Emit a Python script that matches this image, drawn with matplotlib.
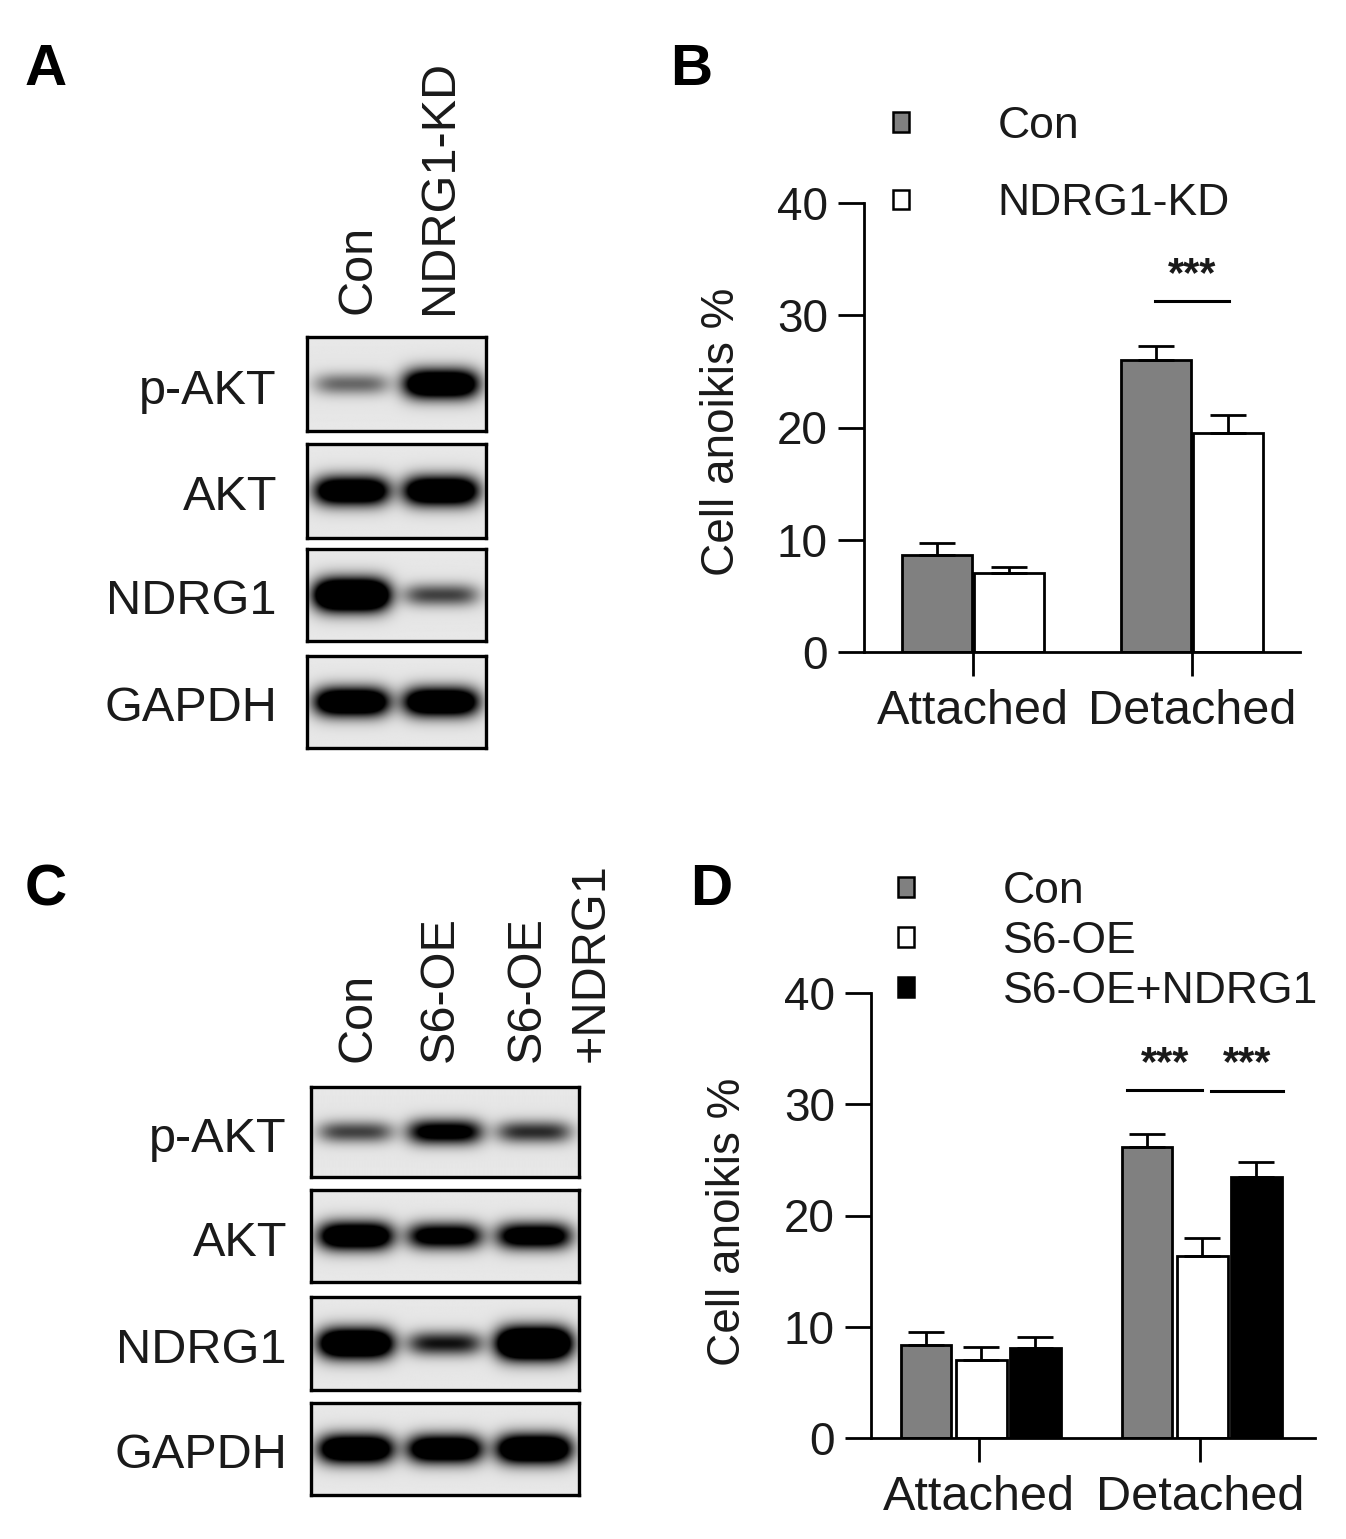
import numpy as np
import matplotlib
matplotlib.use("Agg")
import matplotlib.pyplot as plt
from matplotlib.patches import Patch

plt.rcParams['font.family'] = ['Liberation Sans', 'DejaVu Sans']

W, H = 1346, 1539
INK = '#1a1a1a'

# ---- western blot data (relative band strength) ----
proteins = ['p-AKT', 'AKT', 'NDRG1', 'GAPDH']
lanes_a = ['Con', 'NDRG1-KD']
levels_a = [[0.32, 1.05],
            [1.0, 1.05],
            [1.35, 0.42],
            [1.05, 1.05]]
lanes_c = ['Con', 'S6-OE', 'S6-OE\n+NDRG1']
levels_c = [[0.42, 0.75, 0.48],
            [1.0, 0.8, 0.85],
            [1.15, 0.55, 1.35],
            [1.05, 1.0, 1.1]]

# ---- anoikis data ----
groups = ['Attached', 'Detached']
b_names = ['Con', 'NDRG1-KD']
b_mean = [[8.6, 26.0], [7.0, 19.5]]
b_err = [[1.1, 1.3], [0.6, 1.6]]
d_names = ['Con', 'S6-OE', 'S6-OE+NDRG1']
d_mean = [[8.4, 26.2], [7.0, 16.4], [8.1, 23.5]]
d_err = [[1.1, 1.1], [1.2, 1.6], [1.0, 1.3]]
colors_b = ['#808080', 'white']
colors_d = ['#808080', 'white', 'black']


def rect(x0, y0, x1, y1):
    return [x0 / W, 1 - y1 / H, (x1 - x0) / W, (y1 - y0) / H]


def ftext(x, y, s, **kw):
    kw.setdefault('color', INK)
    return fig.text(x / W, 1 - y / H, s, **kw)


def band_image(levels, nx=360, ny=90):
    n = len(levels)
    xs = np.linspace(0, n, nx)
    ys = np.linspace(0, 1, ny)
    X, Y = np.meshgrid(xs, ys)
    dark = np.zeros_like(X)
    for i, lv in enumerate(levels):
        hw = 0.42
        hh = 0.14 * (0.7 + 0.4 * min(lv, 1.4))
        d = np.abs((X - (i + 0.5)) / hw) ** 4 + ((Y - 0.5) / hh) ** 2
        dark += lv * np.exp(-d)
    bg = 0.89 + 0.04 * np.abs(Y - 0.5)
    return bg * (1 - np.clip(1.7 * dark, 0, 1))


def blot(boxes, levels, label_x):
    for (y0, y1), name, lv in zip(boxes, proteins, levels):
        ax = fig.add_axes(rect(box_x0, y0, box_x1, y1))
        ax.imshow(band_image(lv), cmap='gray', vmin=0, vmax=1, aspect='auto',
                  interpolation='bilinear', extent=[0, len(lv), 0, 1])
        ax.set_xticks([])
        ax.set_yticks([])
        for s in ax.spines.values():
            s.set_linewidth(2.4)
            s.set_color('black')
        ftext(label_x, (y0 + y1) / 2 + 7, name, fontsize=35, ha='right', va='center')


def bars(ax, names, means, errs, colors, offs, width, xlim):
    x = np.arange(len(groups))
    for name, m, e, c, o in zip(names, means, errs, colors, offs):
        ax.bar(x + o, m, width, color=c, edgecolor='black', linewidth=2.0, label=name, zorder=2)
        ax.errorbar(x + o, m, yerr=[np.zeros(len(m)), e], fmt='none', ecolor='black',
                    elinewidth=2.0, capsize=13, capthick=2.0, zorder=3)
    ax.set_xlim(*xlim)
    ax.set_ylim(0, 40)
    ax.set_yticks([0, 10, 20, 30, 40])
    ax.set_xticks(x)
    ax.set_xticklabels(groups, fontsize=35, color=INK)
    ax.tick_params(axis='y', length=19, width=2.0, labelsize=33, pad=7, labelcolor=INK)
    ax.tick_params(axis='x', length=17, width=2.0, pad=10)
    for s in ['top', 'right']:
        ax.spines[s].set_visible(False)
    for s in ['left', 'bottom']:
        ax.spines[s].set_linewidth(2.0)
    ax.set_facecolor('none')


def sig(ax, x0, x1, y, ystar):
    ax.plot([x0, x1], [y, y], color='black', lw=2.2, clip_on=False)
    ax.text((x0 + x1) / 2, ystar, '***', ha='center', va='baseline', fontsize=30,
            fontweight='bold', color=INK)


fig = plt.figure(figsize=(W / 100, H / 100), dpi=100)

# ---- panel A ----
box_x0, box_x1 = 307, 486
blot([(337, 431), (444, 538), (549, 641), (656, 748)], levels_a, 277)
ftext(358, 314, lanes_a[0], fontsize=35, rotation=90, ha='center', va='bottom')
ftext(440, 314, lanes_a[1], fontsize=35, rotation=90, ha='center', va='bottom')

# ---- panel C ----
box_x0, box_x1 = 311, 579
blot([(1087, 1177), (1190, 1282), (1297, 1390), (1403, 1495)], levels_c, 287)
ftext(358, 1062, lanes_c[0], fontsize=35, rotation=90, ha='center', va='bottom')
ftext(440, 1062, lanes_c[1], fontsize=35, rotation=90, ha='center', va='bottom')
top, bottom = lanes_c[2].split('\n')
ftext(527, 1062, top, fontsize=35, rotation=90, ha='center', va='bottom')
ftext(591, 1062, bottom, fontsize=35, rotation=90, ha='center', va='bottom')

# ---- panel B ----
axb = fig.add_axes(rect(864, 203, 1300, 652))
bars(axb, b_names, b_mean, b_err, colors_b, [-0.165, 0.165], 0.32,
     ((864 - 973) / 219, (1300 - 973) / 219))
sig(axb, 1 - 0.17, 1 + 0.17, 31.3, 32.6)
ftext(722, 432, 'Cell anoikis %', fontsize=33, rotation=90, ha='center', va='center')
hb = [Patch(facecolor=c, edgecolor='black', linewidth=1.8) for c in colors_b]
fig.legend(hb, b_names, loc='upper left', bbox_to_anchor=(893 / W, 1 - 106 / H),
           frameon=False, fontsize=32, handlelength=0.35, handleheight=0.3,
           handletextpad=2.0, labelspacing=0.82, borderpad=0, borderaxespad=0,
           labelcolor=INK)

# ---- panel D ----
axd = fig.add_axes(rect(871, 993, 1315, 1438))
bars(axd, d_names, d_mean, d_err, colors_d, [-0.24, 0.01, 0.255], 0.23,
     ((871 - 979) / 221, (1315 - 979) / 221))
sig(axd, 1 - 0.33, 1 + 0.01, 31.3, 32.6)
sig(axd, 1 + 0.05, 1 + 0.375, 31.2, 32.6)
ftext(728, 1222, 'Cell anoikis %', fontsize=33, rotation=90, ha='center', va='center')
hd = [Patch(facecolor=c, edgecolor='black', linewidth=1.8) for c in colors_d]
fig.legend(hd, d_names, loc='upper left', bbox_to_anchor=(898 / W, 1 - 871 / H),
           frameon=False, fontsize=32, handlelength=0.35, handleheight=0.3,
           handletextpad=2.0, labelspacing=0.2, borderpad=0, borderaxespad=0,
           labelcolor=INK)

# ---- panel letters ----
for x, y, s in [(25, 85, 'A'), (670, 85, 'B'), (25, 905, 'C'), (690, 905, 'D')]:
    ftext(x, y, s, fontsize=42, fontweight='bold', ha='left', va='baseline', color='black')

fig.savefig('out.png', dpi=100)
